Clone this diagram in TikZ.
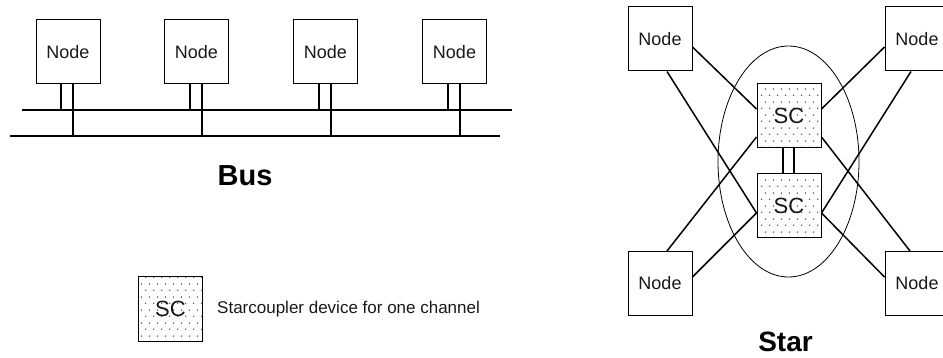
\documentclass[tikz,border=0pt]{standalone}
\usepackage{fontspec}
\setmainfont{Liberation Sans}
\usetikzlibrary{patterns,shapes.geometric}
\pgfdeclarepatternformonly{scdots}{\pgfpointorigin}{\pgfpoint{8pt}{13pt}}{\pgfpoint{8pt}{13pt}}{%
  \pgfpathcircle{\pgfpoint{2pt}{3pt}}{0.75pt}%
  \pgfpathcircle{\pgfpoint{6pt}{9.5pt}}{0.75pt}%
  \pgfusepath{fill}}
\tikzset{
  nodebox/.style={draw, line width=1pt, minimum width=64pt, minimum height=64pt, inner sep=0pt, fill=white,
    font=\fontsize{18}{18}\selectfont, text=black!90},
  scbox/.style={draw, line width=1pt, minimum width=64pt, minimum height=64pt, inner sep=0pt,
    pattern=scdots, pattern color=black!85, font=\fontsize{22}{22}\selectfont, text=black!90},
  busline/.style={line width=2pt},
  stub/.style={line width=2pt},
  conn/.style={line width=1.5pt},
  title/.style={inner sep=0pt, font=\fontsize{29}{29}\selectfont\bfseries},
}
\begin{document}
\begin{tikzpicture}[x=1pt,y=-1pt]
\useasboundingbox (0,0) rectangle (943,358);
% ---------- Bus ----------
\coordinate (busAl) at (22,110);
\coordinate (busAr) at (512,110);
\coordinate (busBl) at (10,136);
\coordinate (busBr) at (500,136);
\draw[busline] (busAl) -- (busAr);
\draw[busline] (busBl) -- (busBr);
\node[nodebox] (n1) at (68,52) {Node};
\node[nodebox] (n2) at (196.5,52) {Node};
\node[nodebox] (n3) at (325.5,52) {Node};
\node[nodebox] (n4) at (454.5,52) {Node};
\foreach \n in {n1,n2,n3,n4}{
  \draw[stub] ([xshift=-7pt]\n.south) -- ([xshift=-7pt]\n.south |- busAl);
  \draw[stub] ([xshift=5pt]\n.south) -- ([xshift=5pt]\n.south |- busBl);
}
\node[title] (bus) at (245,176) {Bus};
% ---------- Legend ----------
\node[scbox] (lsc) at (170.5,309) {SC};
\node[anchor=west, inner sep=0pt, font=\fontsize{17}{17}\selectfont, text=black!90] (ltext) at (217,309) {Starcoupler device for one channel};
% ---------- Star ----------
\node[draw, line width=0.8pt, ellipse, minimum width=141pt, minimum height=231pt, inner sep=0pt] (ell) at (788.5,161.5) {};
\node[scbox, fill=white] (sc1bg) at (789,116) {};
\node[scbox, fill=white] (sc2bg) at (789,206) {};
\node[scbox] (sc1) at (789,116) {SC};
\node[scbox] (sc2) at (789,206) {SC};
\node[nodebox] (tl) at (660,39) {Node};
\node[nodebox] (tr) at (917,39) {Node};
\node[nodebox] (bl) at (660,283.5) {Node};
\node[nodebox] (br) at (917,283.5) {Node};
\draw[stub] ([xshift=-6pt]sc1.south) -- ([xshift=-6pt]sc2.north);
\draw[stub] ([xshift=5pt]sc1.south) -- ([xshift=5pt]sc2.north);
% left side
\draw[conn] ([yshift=-8pt]tl.east) -- ([yshift=7pt]sc1.west);
\draw[conn] ([xshift=7pt]tl.south) -- ([yshift=-7pt]sc2.west);
\draw[conn] ([xshift=7pt]bl.north) -- ([yshift=-21pt]sc1.west);
\draw[conn] ([yshift=6.5pt]bl.east) -- ([yshift=-7pt]sc2.west);
% right side
\draw[conn] ([yshift=-8pt]tr.west) -- ([yshift=7pt]sc1.east);
\draw[conn] ([xshift=-6pt]tr.south) -- ([yshift=-7pt]sc2.east);
\draw[conn] ([xshift=-7pt]br.north) -- ([yshift=-21pt]sc1.east);
\draw[conn] ([yshift=6.5pt]br.west) -- ([yshift=-7pt]sc2.east);
\node[title, font=\fontsize{28}{28}\selectfont\bfseries] (star) at (785.5,342) {Star};
\end{tikzpicture}
\end{document}
